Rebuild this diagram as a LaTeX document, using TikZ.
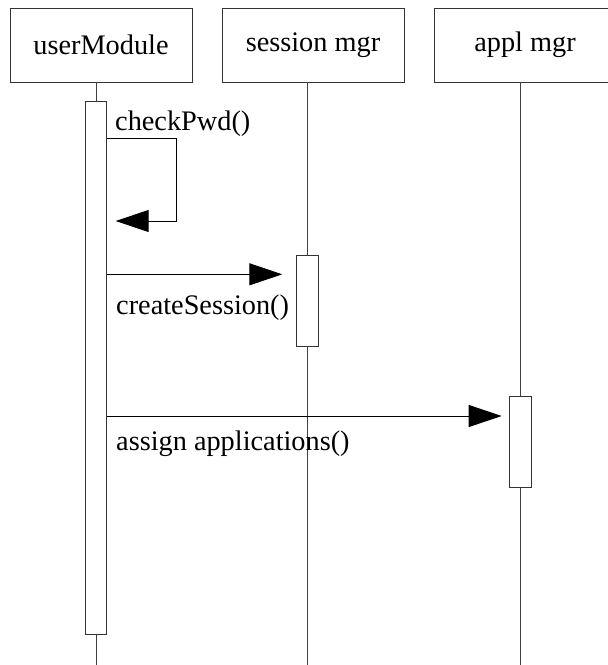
\documentclass[tikz,border=0pt]{standalone}
\usepackage{fontspec}
\setmainfont{Liberation Serif}
\usetikzlibrary{arrows.meta}
\begin{document}
\begin{tikzpicture}[x=1pt,y=-1pt,
  every node/.style={font=\fontsize{28.3}{32}\selectfont},
  header/.style={draw=black!80,line width=1pt,minimum width=182pt,minimum height=74pt,inner sep=0pt},
  actbox/.style={draw=black!80,line width=1pt,fill=white,minimum width=21pt,inner sep=0pt},
  life/.style={draw=black!75,line width=1pt},
  msg/.style={draw=black,line width=1pt,-{Triangle[length=33pt,width=22pt]}},
  lbl/.style={anchor=base west,inner sep=0pt}]
\useasboundingbox (0,0) rectangle (608,665);
% headers
\node[header] (h1) at (101,45) {userModule};
\node[header] (h2) at (313,45) {session mgr};
\node[header] (h3) at (525,45) {appl mgr};
% lifeline coordinates
\coordinate (l1t) at (96,82);   \coordinate (l1b) at (96,665);
\coordinate (l2t) at (307.5,82);\coordinate (l2b) at (307.5,665);
\coordinate (l3t) at (520,82);  \coordinate (l3b) at (520,665);
% activations
\node[actbox,minimum height=533pt] (a1) at (96,367.5) {};
\node[actbox,minimum height=91pt,minimum width=22pt] (a2) at (307.5,300.8) {};
\node[actbox,minimum height=91pt,minimum width=22pt] (a3) at (520,442.2) {};
\draw[life] (l1t) -- (a1.north);
\draw[life] (a1.south) -- (l1b);
\draw[life] (l2t) -- (a2.north);
\draw[life] (a2.south) -- (l2b);
\draw[life] (l3t) -- (a3.north);
\draw[life] (a3.south) -- (l3b);
% message 1: self call
\coordinate (y1) at (0,138.7);
\coordinate (c1) at (176.7,138.7);
\coordinate (c2) at (176.7,221);
\coordinate (t1) at (115.7,221);
\draw[msg] (a1.east |- y1) -- (c1) -- (c2) -- (t1);
\node[lbl] (m1) at (115,130.7) {checkPwd()};
% message 2
\coordinate (y2) at (0,274.3);
\coordinate (t2) at (282.3,274.3);
\draw[msg] (a1.east |- y2) -- (t2);
\node[lbl] (m2) at (116,314) {createSession()};
% message 3
\coordinate (y3) at (0,416);
\coordinate (t3) at (501.7,416);
\draw[msg] (a1.east |- y3) -- (t3);
\node[lbl] (m3) at (116,450) {assign applications()};
\end{tikzpicture}
\end{document}
